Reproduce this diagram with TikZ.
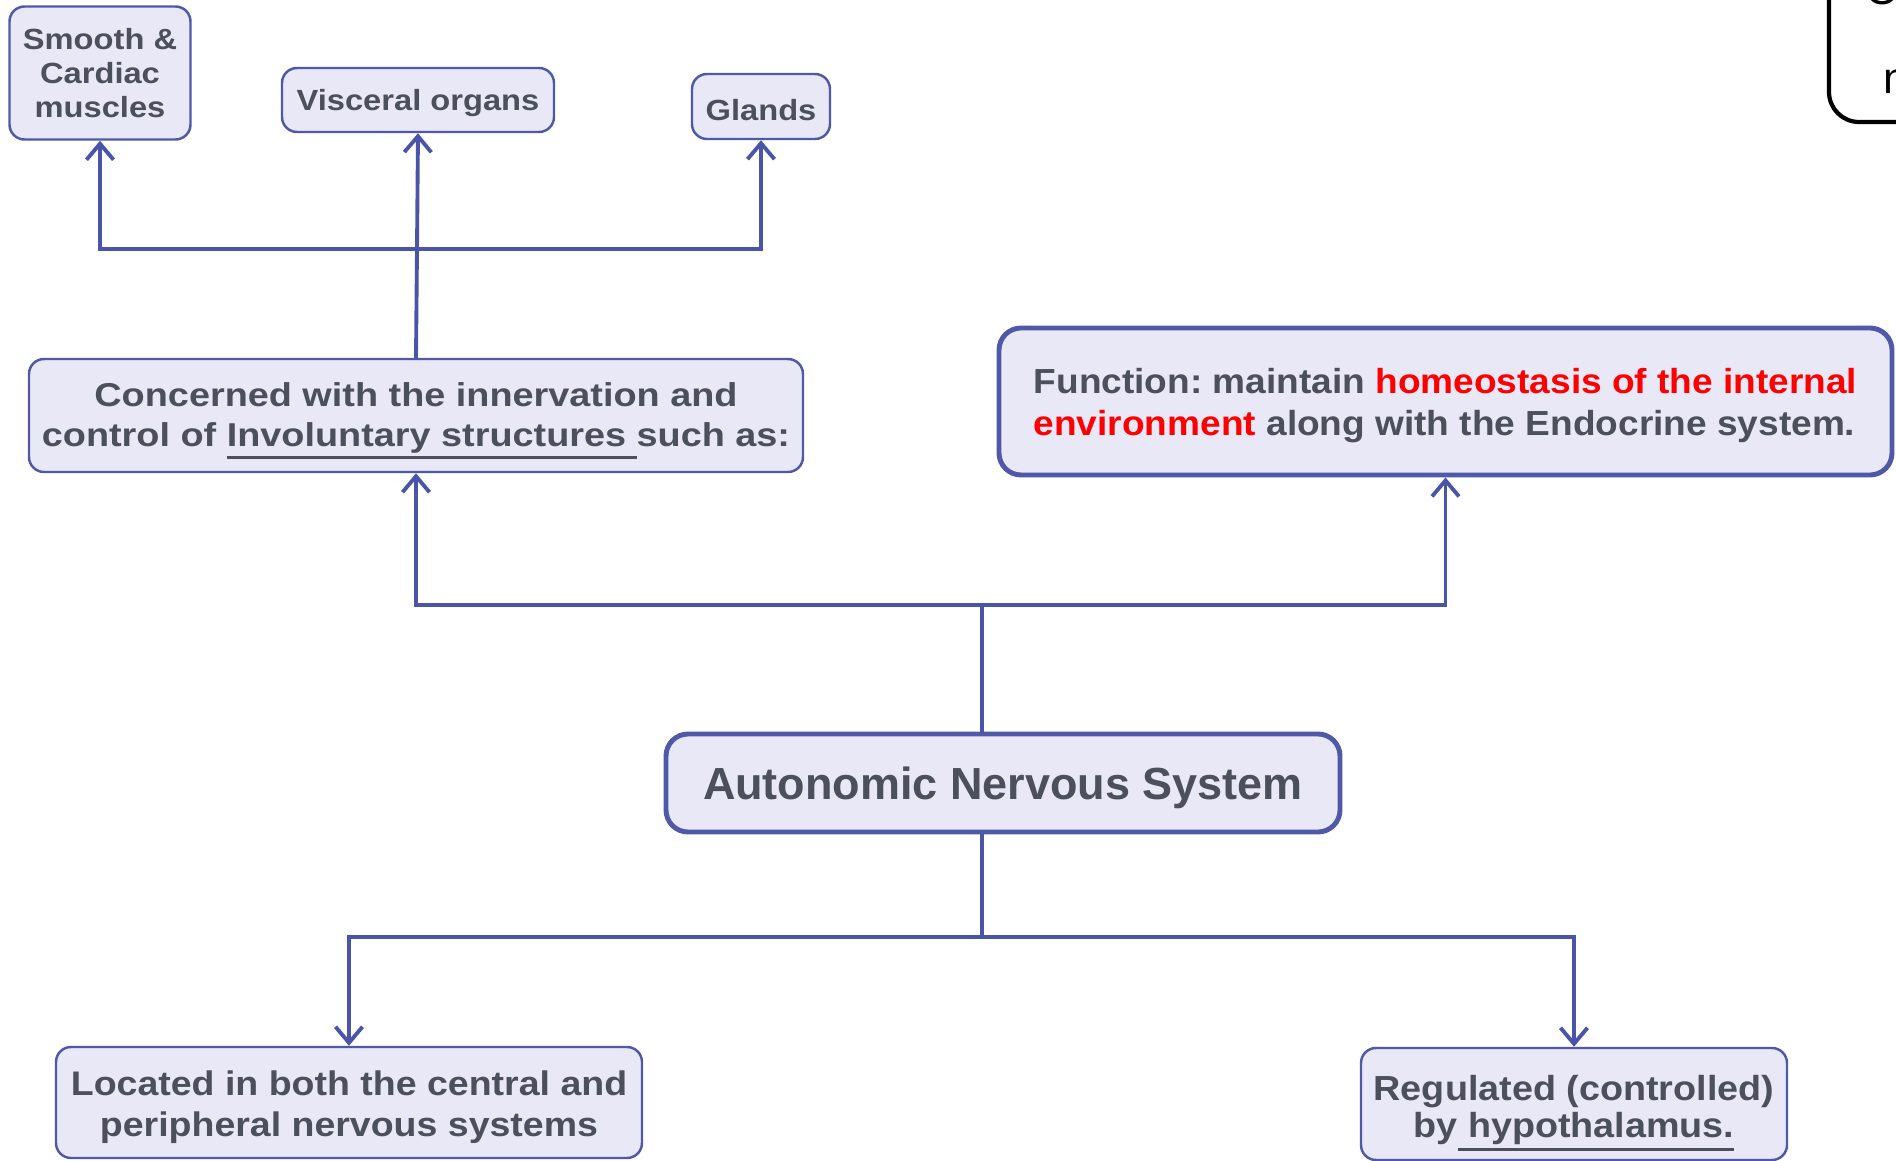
\documentclass[tikz,border=0pt]{standalone}
\usepackage{fontspec}
\setmainfont{Liberation Sans}
\usetikzlibrary{arrows.meta}
\definecolor{boxfill}{HTML}{E8E8F6}
\definecolor{boxline}{HTML}{5058A8}
\definecolor{wirecol}{HTML}{4A54A8}
\definecolor{inktext}{HTML}{4B505A}
\definecolor{hotred}{HTML}{FF0000}
% size, leading, horizontal stretch
\newcommand{\boxfont}[3]{\fontsize{#1}{#2}\selectfont\bfseries\addfontfeature{FakeStretch=#3}}
\newcommand{\markline}[1]{\leavevmode\vtop{\hbox{#1}\kern1pt\hrule height 0.75pt}}
\newcommand{\lift}[1][0.95em]{\rule{0pt}{#1}}
\frenchspacing
\setlength{\lineskiplimit}{-6pt}

\begin{document}
\begin{tikzpicture}[
  topic/.style={draw=boxline, line width=0.7pt, fill=boxfill, rounded corners=0.15cm,
    inner sep=0pt, align=center, text=inktext, execute at begin node={\lift}},
  keytopic/.style={topic, line width=1.4pt, rounded corners=0.22cm},
  wire/.style={draw=wirecol, line width=1.1pt},
  lead/.style={wire, -{Straight Barb[length=0.16cm, width=0.27cm]}}]
  \useasboundingbox (0,0) rectangle (18.96,-11.61);

  \node[topic, minimum width=1.81cm, minimum height=1.33cm, font=\boxfont{8.3}{9.7}{1.12}] (smooth) at (1.00,-0.73) {Smooth \&\\Cardiac\\muscles};
  \node[topic, minimum width=2.72cm, minimum height=0.64cm, font=\boxfont{8.3}{9.5}{1.12}] (visceral) at (4.18,-1.00) {Visceral organs};
  \node[topic, minimum width=1.38cm, minimum height=0.65cm, font=\boxfont{8.3}{9.5}{1.12}] (glands) at (7.61,-1.065) {Glands};
  \node[topic, minimum width=7.74cm, minimum height=1.13cm, font=\boxfont{9.4}{11.2}{1.145}] (concern) at (4.16,-4.155)
    {\lift[1.05em]Concerned with the innervation and\\control of \markline{Involuntary structures\ }such as:};
  \node[keytopic, minimum width=8.93cm, minimum height=1.47cm, align=left, font=\boxfont{9.9}{12}{1.065}] (func) at (14.455,-4.015)
    {\lift Function: maintain \textcolor{hotred}{homeostasis of the internal}\\\textcolor{hotred}{environment} along with the Endocrine system.};
  \node[keytopic, minimum width=6.74cm, minimum height=0.98cm, font=\boxfont{12.8}{15}{1.0}] (ans) at (10.03,-7.83) {Autonomic Nervous System};
  \node[topic, minimum width=5.86cm, minimum height=1.11cm, font=\boxfont{9.7}{11.7}{1.1}] (located) at (3.49,-11.025)
    {\lift[1.0em]Located in both the central and\\peripheral nervous systems};
  \node[topic, minimum width=4.26cm, minimum height=1.12cm, font=\boxfont{9.9}{10.6}{1.085}] (regulated) at (15.74,-11.04)
    {\lift[1.25em]Regulated (controlled)\\by\markline{\ hypothalamus.}};

  % branch points
  \coordinate (tophub) at (4.17,-2.49);
  \coordinate (midhub) at (9.82,-6.05);
  \coordinate (lowhub) at (9.82,-9.37);

  \draw[wire] (concern.north) -- (tophub);
  \draw[lead] (tophub) -| (smooth.south);
  \draw[lead] (tophub) -- (visceral.south);
  \draw[lead] (tophub) -| (glands.south);

  \draw[wire] (ans.north -| midhub) -- (midhub);
  \draw[lead] (midhub) -| (concern.south);
  \draw[lead] (midhub) -| (func.south);

  \draw[wire] (ans.south -| lowhub) -- (lowhub);
  \draw[lead] (lowhub) -| (located.north);
  \draw[lead] (lowhub) -| (regulated.north);

  % box cut off at the top right
  \begin{scope}
    \clip (0,0) rectangle (18.96,-11.61);
    \draw[black, line width=1.2pt, rounded corners=0.3cm] (18.29,-1.22) rectangle (19.8,0.6);
    \node[anchor=base west, inner sep=0pt, font=\fontsize{12.5}{14}\selectfont] (notetop) at (18.65,-0.05) {Or};
    \node[anchor=base west, inner sep=0pt, font=\fontsize{12.5}{14}\selectfont] (notelow) at (18.83,-0.94) {n};
  \end{scope}
\end{tikzpicture}
\end{document}
